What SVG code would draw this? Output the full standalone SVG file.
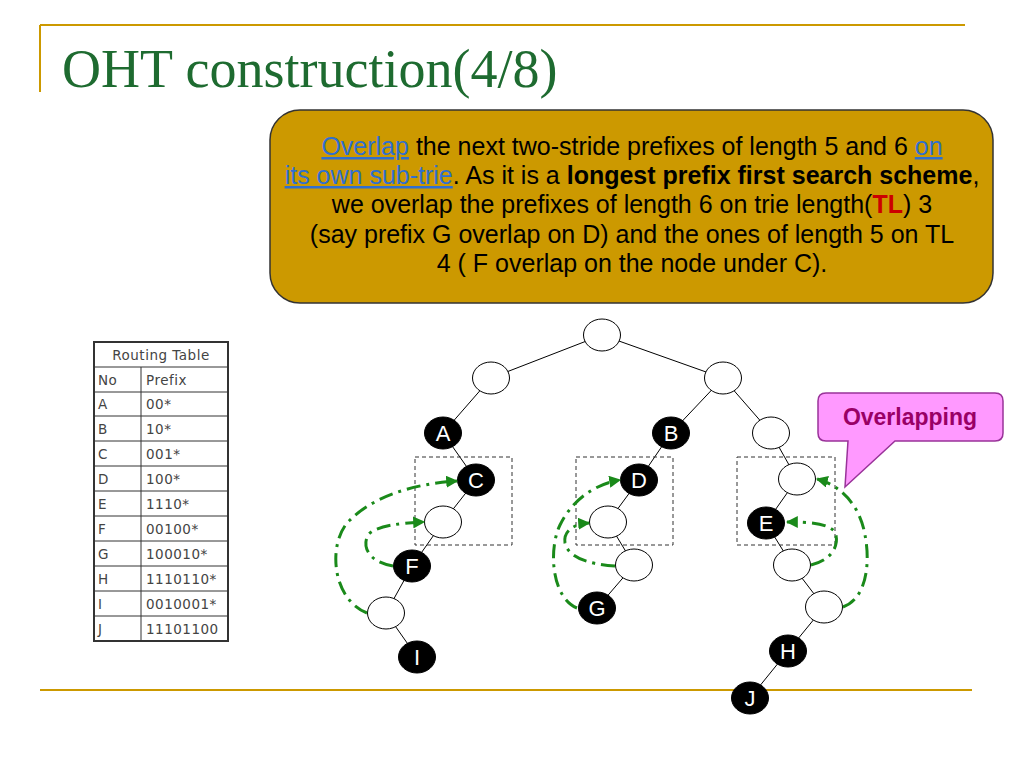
<svg xmlns="http://www.w3.org/2000/svg" width="1024" height="768" viewBox="0 0 1024 768">
<defs>
<style>
.rule{stroke:#CC9900;stroke-width:2;fill:none}
.edge{stroke:#000;stroke-width:1}
.wn{fill:#fff;stroke:#000;stroke-width:1}
.bn{fill:#000;stroke:#000;stroke-width:1}
.bt{font-family:"Liberation Sans",Arial,sans-serif;font-size:22px;fill:#fff;text-anchor:middle}
.box{fill:none;stroke:#333;stroke-width:1;stroke-dasharray:4,3}
.arc{fill:none;stroke:#1A8A1A;stroke-width:3;stroke-dasharray:14,6,3,6}
.tb{font-family:"DejaVu Sans",Verdana,sans-serif;font-size:13.5px;letter-spacing:0.5px;fill:#444}
.tl{stroke:#333;stroke-width:1}
.mt{font-family:"Liberation Sans",Arial,sans-serif;font-size:25px;fill:#000;text-anchor:middle}
.lnk{fill:#2F6FD0;text-decoration:underline}
</style>
<marker id="ah" viewBox="0 0 10 10" refX="9" refY="5" markerWidth="4" markerHeight="4" orient="auto" markerUnits="strokeWidth">
<path d="M0,0 L10,5 L0,10 z" fill="#1A8A1A"/>
</marker>
</defs>
<rect width="1024" height="768" fill="#fff"/>
<g id="frame">
<line class="rule" x1="40" y1="25" x2="965" y2="25"/>
<line class="rule" x1="40" y1="25" x2="40" y2="92"/>
<line class="rule" x1="40" y1="690" x2="972" y2="690"/>
</g>
<text id="title" x="62" y="87" font-family="'Liberation Serif','Times New Roman',serif" font-size="54" fill="#1E6B30">OHT construction(4/8)</text>
<g id="note">
<rect x="270" y="110" width="723" height="193" rx="30" ry="30" fill="#CC9900" stroke="#333" stroke-width="1.5"/>
<text class="mt" x="632" y="155"><tspan class="lnk">Overlap</tspan> the next two-stride prefixes of length 5 and 6 <tspan class="lnk">on</tspan></text>
<text class="mt" x="632" y="184"><tspan class="lnk">its own sub-trie</tspan>. As it is a <tspan font-weight="bold">longest prefix first search scheme</tspan>,</text>
<text class="mt" x="632" y="213">we overlap the prefixes of length 6 on trie length(<tspan font-weight="bold" fill="#CC0000">TL</tspan>) 3</text>
<text class="mt" x="632" y="243">(say prefix G overlap on D) and the ones of length 5 on TL</text>
<text class="mt" x="632" y="272">4 ( F overlap on the node under C).</text>
</g>
<g id="routing-table">
<rect x="94" y="342" width="134" height="299" fill="#fff" stroke="#333" stroke-width="2"/>
<line class="tl" x1="94" y1="367" x2="228" y2="367"/>
<line class="tl" x1="94" y1="392" x2="228" y2="392"/>
<line class="tl" x1="94" y1="416" x2="228" y2="416"/>
<line class="tl" x1="94" y1="441" x2="228" y2="441"/>
<line class="tl" x1="94" y1="466" x2="228" y2="466"/>
<line class="tl" x1="94" y1="491" x2="228" y2="491"/>
<line class="tl" x1="94" y1="516" x2="228" y2="516"/>
<line class="tl" x1="94" y1="541" x2="228" y2="541"/>
<line class="tl" x1="94" y1="566" x2="228" y2="566"/>
<line class="tl" x1="94" y1="591" x2="228" y2="591"/>
<line class="tl" x1="94" y1="616" x2="228" y2="616"/>
<line class="tl" x1="141" y1="367" x2="141" y2="641"/>
<text class="tb" x="161" y="360" text-anchor="middle">Routing Table</text>
<text class="tb" x="98" y="385">No</text><text class="tb" x="146" y="385">Prefix</text>
<text class="tb" x="98" y="409">A</text><text class="tb" x="146" y="409">00*</text>
<text class="tb" x="98" y="434">B</text><text class="tb" x="146" y="434">10*</text>
<text class="tb" x="98" y="459">C</text><text class="tb" x="146" y="459">001*</text>
<text class="tb" x="98" y="484">D</text><text class="tb" x="146" y="484">100*</text>
<text class="tb" x="98" y="509">E</text><text class="tb" x="146" y="509">1110*</text>
<text class="tb" x="98" y="534">F</text><text class="tb" x="146" y="534">00100*</text>
<text class="tb" x="98" y="559">G</text><text class="tb" x="146" y="559">100010*</text>
<text class="tb" x="98" y="584">H</text><text class="tb" x="146" y="584">1110110*</text>
<text class="tb" x="98" y="609">I</text><text class="tb" x="146" y="609">0010001*</text>
<text class="tb" x="98" y="634">J</text><text class="tb" x="146" y="634">11101100</text>
</g>
<g id="connectors">
<line class="edge" x1="602" y1="335" x2="491" y2="378"/>
<line class="edge" x1="602" y1="335" x2="723" y2="378"/>
<line class="edge" x1="491" y1="378" x2="443" y2="433"/>
<line class="edge" x1="443" y1="433" x2="476" y2="480"/>
<line class="edge" x1="476" y1="480" x2="443" y2="522"/>
<line class="edge" x1="443" y1="522" x2="412" y2="566"/>
<line class="edge" x1="412" y1="566" x2="386" y2="613"/>
<line class="edge" x1="386" y1="613" x2="417" y2="657"/>
<line class="edge" x1="723" y1="378" x2="671" y2="433"/>
<line class="edge" x1="671" y1="433" x2="639" y2="480"/>
<line class="edge" x1="639" y1="480" x2="608" y2="522"/>
<line class="edge" x1="608" y1="522" x2="634" y2="565"/>
<line class="edge" x1="634" y1="565" x2="597" y2="608"/>
<line class="edge" x1="723" y1="378" x2="771" y2="433"/>
<line class="edge" x1="771" y1="433" x2="797" y2="479"/>
<line class="edge" x1="797" y1="479" x2="766" y2="523"/>
<line class="edge" x1="766" y1="523" x2="792" y2="565"/>
<line class="edge" x1="792" y1="565" x2="824" y2="607"/>
<line class="edge" x1="824" y1="607" x2="788" y2="651"/>
<line class="edge" x1="788" y1="651" x2="750" y2="698"/>
</g>
<g id="subtrie-boxes">
<rect class="box" x="415" y="457" width="97" height="88"/>
<rect class="box" x="576" y="457" width="97" height="88"/>
<rect class="box" x="737" y="457" width="98" height="88"/>
</g>
<g id="nodes">
<g id="root"><ellipse class="wn" cx="602" cy="335" rx="18.5" ry="16"/></g>
<g id="n0"><ellipse class="wn" cx="491" cy="378" rx="18.5" ry="16"/></g>
<g id="n1"><ellipse class="wn" cx="723" cy="378" rx="18.5" ry="16"/></g>
<g id="nA"><ellipse class="bn" cx="443" cy="433" rx="18.5" ry="16"/><text class="bt" x="443" y="441">A</text></g>
<g id="nB"><ellipse class="bn" cx="671" cy="433" rx="18.5" ry="16"/><text class="bt" x="671" y="441">B</text></g>
<g id="n11"><ellipse class="wn" cx="771" cy="433" rx="18.5" ry="16"/></g>
<g id="nC"><ellipse class="bn" cx="476" cy="480" rx="18.5" ry="16"/><text class="bt" x="476" y="488">C</text></g>
<g id="n0010"><ellipse class="wn" cx="443" cy="522" rx="18.5" ry="16"/></g>
<g id="nF"><ellipse class="bn" cx="412" cy="566" rx="18.5" ry="16"/><text class="bt" x="412" y="574">F</text></g>
<g id="n001000"><ellipse class="wn" cx="386" cy="613" rx="18.5" ry="16"/></g>
<g id="nI"><ellipse class="bn" cx="417" cy="657" rx="18.5" ry="16"/><text class="bt" x="417" y="665">I</text></g>
<g id="nD"><ellipse class="bn" cx="639" cy="480" rx="18.5" ry="16"/><text class="bt" x="639" y="488">D</text></g>
<g id="n1000"><ellipse class="wn" cx="608" cy="522" rx="18.5" ry="16"/></g>
<g id="n10001"><ellipse class="wn" cx="634" cy="565" rx="18.5" ry="16"/></g>
<g id="nG"><ellipse class="bn" cx="597" cy="608" rx="18.5" ry="16"/><text class="bt" x="597" y="616">G</text></g>
<g id="n111"><ellipse class="wn" cx="797" cy="479" rx="18.5" ry="16"/></g>
<g id="nE"><ellipse class="bn" cx="766" cy="523" rx="18.5" ry="16"/><text class="bt" x="766" y="531">E</text></g>
<g id="n11101"><ellipse class="wn" cx="792" cy="565" rx="18.5" ry="16"/></g>
<g id="n111011"><ellipse class="wn" cx="824" cy="607" rx="18.5" ry="16"/></g>
<g id="nH"><ellipse class="bn" cx="788" cy="651" rx="18.5" ry="16"/><text class="bt" x="788" y="659">H</text></g>
<g id="nJ"><ellipse class="bn" cx="750" cy="698" rx="18.5" ry="16"/><text class="bt" x="750" y="706">J</text></g>
</g>
<g id="overlap-arcs">
<path class="arc" marker-end="url(#ah)" d="M367,613 C330,598 328,540 350,520 C372,498 410,484 457,481"/>
<path class="arc" marker-end="url(#ah)" d="M393,566 C368,562 362,546 368,535 C375,526 400,523 424,522"/>
<path class="arc" marker-end="url(#ah)" d="M577,608 C552,598 548,550 560,525 C572,500 595,484 620,480"/>
<path class="arc" marker-end="url(#ah)" d="M615,566 C585,564 568,556 565,543 C563,530 575,524 589,523"/>
<path class="arc" marker-end="url(#ah)" d="M843,607 C868,598 870,560 865,535 C860,505 840,485 817,479"/>
<path class="arc" marker-end="url(#ah)" d="M811,565 C832,560 840,545 835,532 C828,523 808,522 787,522"/>
</g>
<g id="callout">
<path d="M826,393 H995 Q1003,393 1003,401 V433 Q1003,441 995,441 H895 L845,487 L848,441 H826 Q818,441 818,433 V401 Q818,393 826,393 Z" fill="#FF99FF" stroke="#993399" stroke-width="1.5"/>
<text x="910" y="425" font-family="'Liberation Sans',Arial,sans-serif" font-size="23" font-weight="bold" fill="#990066" text-anchor="middle">Overlapping</text>
</g>
</svg>
